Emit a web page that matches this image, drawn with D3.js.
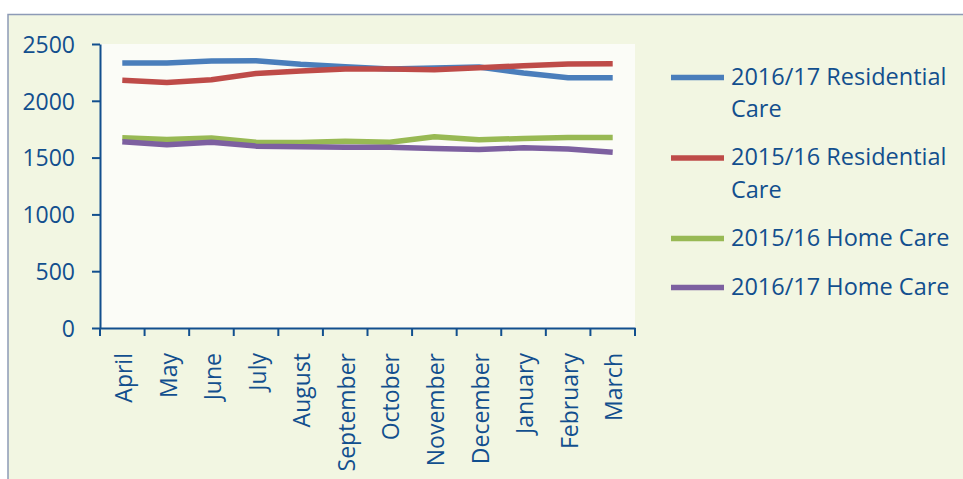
<!DOCTYPE html>
<html>
<head>
<meta charset="utf-8">
<script src="https://cdn.jsdelivr.net/npm/d3@7"></script>
<style>
  html, body { margin: 0; padding: 0; background: #ffffff; }
  svg { display: block; }
  text { font-family: "Open Sans", sans-serif; }
</style>
</head>
<body>
<svg id="chart" width="963" height="479"></svg>
<script>
const months = ["April","May","June","July","August","September","October","November","December","January","February","March"];
const residential1617 = [2332,2332,2350,2353,2321,2300,2280,2288,2297,2245,2203,2203];
const residential1516 = [2180,2162,2185,2240,2262,2280,2280,2274,2291,2309,2324,2326];
const home1516 = [1674,1660,1672,1636,1634,1645,1636,1683,1657,1669,1678,1678];
const home1617 = [1639,1613,1636,1601,1595,1592,1592,1581,1572,1586,1575,1548];
const seriesNames = ["2016/17 Residential Care","2015/16 Residential Care","2015/16 Home Care","2016/17 Home Care"];
const yTicks = [0,500,1000,1500,2000,2500];

const series = [
  {name: seriesNames[0], values: residential1617, color: "#4A7EBB", legend: ["2016/17 Residential","Care"]},
  {name: seriesNames[1], values: residential1516, color: "#BE4B48", legend: ["2015/16 Residential","Care"]},
  {name: seriesNames[2], values: home1516, color: "#98B954", legend: ["2015/16 Home Care"]},
  {name: seriesNames[3], values: home1617, color: "#7D60A0", legend: ["2016/17 Home Care"]}
];

const textColor = "#124F8E";
const svg = d3.select("#chart");

// outer chart area
svg.append("rect").attr("x", 8).attr("y", 14.5).attr("width", 980).attr("height", 480)
  .attr("fill", "#F2F6E2").attr("stroke", "#8D9AB6").attr("stroke-width", 1.5);

const plot = {left: 100, right: 635, top: 44, bottom: 328};

svg.append("rect").attr("x", plot.left).attr("y", plot.top)
  .attr("width", plot.right - plot.left).attr("height", plot.bottom - plot.top)
  .attr("fill", "#FBFCF7");

const x = d3.scaleBand().domain(months).range([plot.left, plot.right]).padding(0);
const y = d3.scaleLinear().domain([0, 2500]).range([plot.bottom, plot.top]);

// Y axis
const yAxis = svg.append("g").attr("transform", `translate(${plot.left},0)`)
  .call(d3.axisLeft(y).tickValues(yTicks).tickSize(8).tickPadding(17).tickFormat(d3.format("d")).tickSizeOuter(0));
yAxis.select(".domain").attr("stroke", textColor).attr("stroke-width", 2);
yAxis.selectAll(".tick line").attr("stroke", textColor).attr("stroke-width", 2);
yAxis.selectAll("text").attr("fill", textColor).style("font-size", "23px").attr("dy", "0.36em");

// X axis
const xAxis = svg.append("g").attr("transform", `translate(0,${plot.bottom})`)
  .call(d3.axisBottom(x).tickSize(0).tickSizeOuter(0));
xAxis.select(".domain").attr("stroke", textColor).attr("stroke-width", 2);
xAxis.selectAll(".tick line").remove();
xAxis.selectAll("text")
  .attr("fill", textColor).style("font-size", "23px")
  .attr("transform", "rotate(-90)")
  .attr("text-anchor", "end")
  .attr("x", -25).attr("y", 0).attr("dy", "0.42em");

// band edge ticks
const edges = months.map(m => x(m)).concat([x.range()[1]]);
xAxis.selectAll(".edge").data(edges).enter().append("line")
  .attr("class", "edge")
  .attr("x1", d => d).attr("x2", d => d)
  .attr("y1", 0).attr("y2", 8)
  .attr("stroke", textColor).attr("stroke-width", 2);

// lines
const line = d3.line()
  .x((d, i) => x(months[i]) + x.bandwidth() / 2)
  .y(d => y(d));

svg.append("g").selectAll("path").data(series).enter().append("path")
  .attr("d", d => line(d.values))
  .attr("fill", "none")
  .attr("stroke", d => d.color)
  .attr("stroke-width", 5.5)
  .attr("stroke-linejoin", "round");

// legend
const legendRows = [77.5, 158, 238.5, 287.5];
const lg = svg.append("g");
series.forEach((s, i) => {
  const yy = legendRows[i];
  lg.append("line").attr("x1", 671).attr("x2", 724).attr("y1", yy).attr("y2", yy)
    .attr("stroke", s.color).attr("stroke-width", 5.5);
  const t = lg.append("text").attr("x", 731).attr("y", yy + 7)
    .attr("fill", textColor).style("font-size", "23.5px");
  s.legend.forEach((ln, j) => {
    t.append("tspan").attr("x", 731).attr("dy", j === 0 ? 0 : 32.5).text(ln);
  });
});
</script>
</body>
</html>
